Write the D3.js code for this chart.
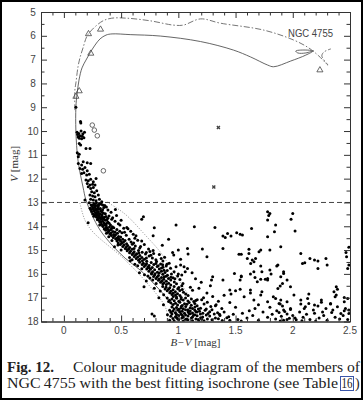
<!DOCTYPE html>
<html><head><meta charset="utf-8">
<script src="https://cdn.jsdelivr.net/npm/d3@7"></script>
<style>body{margin:0;background:#fff}svg{display:block}</style>
</head><body>
<svg id="c" width="363" height="400"></svg>
<script>
// ---- data (B-V, V) ----
const xTickLabels = [0, 0.5, 1, 1.5, 2, 2.5];
const yTickLabels = [5,6,7,8,9,10,11,12,13,14,15,16,17,18];
const cutLine = 13;
const clusterLabel = "NGC 4755";

const upperMS = [[0.105,9.0],[0.145,9.6],[0.148,9.66],
[0.115,10.05],[0.13,10.1],[0.15,10.0],[0.165,10.12],[0.14,10.2],[0.16,10.22],[0.125,10.25],[0.175,10.28],[0.12,10.15],[0.155,10.32],[0.135,10.3],[0.18,10.05],
[0.134,10.52],[0.146,10.59],[0.193,10.73],[0.228,10.73],[0.117,10.91],[0.134,10.97],[0.126,11.08],
[0.126,11.36],[0.155,11.43],[0.169,11.29],[0.204,11.33],[0.234,11.36],
[0.14,11.57],[0.164,11.61],[0.184,11.53],[0.204,11.67],[0.155,11.78],[0.175,11.75],[0.199,11.85],[0.222,11.81],[0.281,11.99],[0.193,12.06],[0.213,12.09],[0.234,12.03],[0.257,12.13],[0.204,12.2],[0.228,12.27],[0.251,12.23],[0.272,12.27],
[0.213,12.34],[0.234,12.41],[0.257,12.37],[0.243,12.55],[0.266,12.59],[0.287,12.51],[0.228,12.69],[0.251,12.73],[0.272,12.76],[0.301,12.69],[0.234,12.87],[0.257,12.9],[0.281,12.93],[0.310,12.87],[0.331,12.97],[0.184,12.9]];

const lowerMS = [
[0.221,13.01],[0.262,13.04],[0.284,13.02],[0.305,13.09],[0.238,13.11],[0.291,13.13],[0.327,13.07],[0.247,13.17],[0.268,13.2],[0.302,13.15],[0.349,13.21],[0.255,13.24],[0.279,13.27],[0.318,13.25],[0.371,13.19],[0.236,13.3],[0.283,13.33],[0.296,13.29],[0.338,13.31],[0.262,13.36],[0.301,13.39],[0.322,13.36],[0.385,13.32],[0.275,13.43],[0.306,13.46],[0.345,13.44],[0.252,13.47],[0.289,13.49],[0.318,13.5],[0.362,13.47],[0.412,13.41],[0.229,13.24],[0.357,13.13],[0.266,13.08],[0.309,13.27],[0.331,13.4],[0.274,13.14],[0.243,13.38],[0.296,13.22],[0.313,13.05],[0.258,13.28],[0.286,13.42],[0.339,13.11],[0.252,13.12],
[0.271,13.53],[0.307,13.56],[0.334,13.52],[0.368,13.59],[0.284,13.61],[0.318,13.64],[0.352,13.62],[0.394,13.57],[0.296,13.68],[0.327,13.7],[0.341,13.66],[0.375,13.73],[0.309,13.76],[0.338,13.79],[0.363,13.75],[0.418,13.71],[0.316,13.83],[0.349,13.86],[0.384,13.82],[0.447,13.79],[0.328,13.91],[0.356,13.94],[0.372,13.88],[0.407,13.95],[0.339,13.98],[0.369,13.97],[0.476,13.89],[0.212,13.85],[0.293,13.73],[0.426,13.64],[0.262,13.58],[0.287,13.55],[0.322,13.81],[0.351,13.71],[0.395,13.87],[0.302,13.63],[0.33,13.6],[0.361,13.91],[0.384,13.66],[0.313,13.95],
[0.342,14.01],[0.375,14.05],[0.398,14.03],[0.436,14.06],[0.352,14.11],[0.384,14.13],[0.417,14.09],[0.366,14.17],[0.393,14.19],[0.428,14.22],[0.463,14.14],[0.386,14.25],[0.412,14.28],[0.447,14.24],[0.402,14.32],[0.435,14.35],[0.468,14.29],[0.507,14.27],[0.415,14.39],[0.442,14.41],[0.478,14.43],[0.431,14.47],[0.465,14.49],[0.496,14.45],[0.545,14.38],[0.584,14.21],[0.523,14.08],[0.392,14.44],[0.606,14.34],[0.365,14.07],[0.409,14.15],[0.451,14.36],[0.372,14.29],[0.488,14.21],[0.424,14.02],
[0.452,14.52],[0.486,14.56],[0.514,14.55],[0.463,14.61],[0.497,14.63],[0.534,14.6],[0.474,14.69],[0.506,14.71],[0.548,14.73],[0.587,14.66],[0.493,14.77],[0.527,14.79],[0.558,14.81],[0.515,14.85],[0.546,14.87],[0.575,14.89],[0.624,14.83],[0.536,14.93],[0.567,14.95],[0.596,14.97],[0.663,14.91],[0.645,14.59],[0.703,14.77],[0.554,14.99],[0.442,14.86],[0.472,14.79],[0.521,14.66],[0.598,14.75],[0.478,14.54],[0.613,14.93],
[0.553,15.03],[0.582,15.05],[0.614,15.07],[0.652,15.02],[0.574,15.11],[0.605,15.13],[0.636,15.15],[0.684,15.09],[0.597,15.19],[0.626,15.21],[0.664,15.23],[0.713,15.17],[0.614,15.27],[0.645,15.29],[0.682,15.31],[0.745,15.25],[0.632,15.35],[0.664,15.37],[0.703,15.39],[0.773,15.33],[0.652,15.43],[0.686,15.45],[0.724,15.47],[0.804,15.41],[0.752,15.06],[0.834,15.19],[0.574,15.31],[0.865,15.46],[0.596,15.41],[0.721,15.33],[0.655,15.12],[0.784,15.14],
[0.663,15.51],[0.694,15.55],[0.722,15.57],[0.763,15.52],[0.804,15.56],[0.845,15.59],[0.684,15.61],[0.713,15.63],[0.745,15.65],[0.786,15.61],[0.824,15.66],[0.863,15.62],[0.702,15.69],[0.734,15.71],[0.772,15.73],[0.815,15.69],[0.853,15.75],[0.894,15.67],[0.724,15.79],[0.756,15.81],[0.793,15.83],[0.834,15.79],[0.875,15.85],[0.743,15.89],[0.775,15.91],[0.817,15.93],[0.852,15.89],[0.903,15.86],[0.765,15.97],[0.796,15.99],[0.833,15.96],[0.884,15.94],[0.932,15.76],[0.963,15.91],[0.645,15.66],[0.681,15.78],[0.745,15.74],[0.866,15.72],
[0.704,16.04],[0.735,16.09],[0.766,16.01],[0.793,16.05],[0.826,16.07],[0.864,16.02],[0.905,16.06],[0.784,16.11],[0.815,16.13],[0.853,16.15],[0.893,16.1],[0.935,16.14],[0.805,16.19],[0.834,16.21],[0.873,16.23],[0.914,16.19],[0.953,16.16],[0.826,16.27],[0.856,16.29],[0.895,16.31],[0.934,16.26],[0.845,16.35],[0.874,16.37],[0.915,16.39],[0.965,16.34],[0.865,16.43],[0.895,16.45],[0.934,16.47],[0.984,16.41],[1.014,16.24],[0.994,16.09],[0.752,16.17],[0.776,16.26],[0.806,16.4],[0.877,16.12],
[0.864,16.53],[0.893,16.56],[0.925,16.58],[0.963,16.53],[1.004,16.57],[0.884,16.63],[0.914,16.65],[0.954,16.67],[0.995,16.62],[1.034,16.66],[0.903,16.71],[0.935,16.73],[0.974,16.75],[1.013,16.7],[0.925,16.79],[0.954,16.81],[0.993,16.83],[1.045,16.77],[0.944,16.87],[0.975,16.89],[1.014,16.91],[1.064,16.84],[0.956,16.95],[0.984,16.97],[1.025,16.99],[1.085,16.91],[1.124,16.69],[1.105,16.56],[0.842,16.72],[0.872,16.88],
[0.903,17.01],[0.944,17.05],[0.985,17.02],[1.024,17.07],[1.063,17.01],[1.114,17.06],[1.165,17.09],[0.923,17.11],[0.964,17.13],[1.004,17.15],[1.043,17.1],[1.084,17.14],[1.135,17.16],[1.204,17.09],[0.934,17.21],[0.975,17.23],[1.013,17.19],[1.054,17.25],[1.095,17.2],[1.144,17.24],[1.253,17.19],[0.955,17.29],[0.993,17.31],[1.034,17.33],[1.075,17.28],[1.113,17.32],[1.164,17.34],[1.225,17.27],[0.944,17.39],[0.984,17.41],[1.023,17.43],[1.065,17.37],[1.104,17.42],[1.145,17.39],[1.194,17.44],[1.284,17.37],[0.963,17.47],[1.004,17.49],[1.043,17.46],[1.085,17.51],[1.124,17.45],[1.175,17.48],[1.244,17.47],[1.324,17.34],[0.915,17.16],[1.027,17.36],[1.152,17.12],
[0.924,17.53],[0.953,17.56],[0.994,17.52],[1.034,17.57],[1.063,17.51],[1.104,17.56],[1.143,17.52],[1.185,17.57],[1.234,17.53],[1.294,17.51],[0.935,17.61],[0.974,17.63],[1.013,17.6],[1.054,17.65],[1.085,17.59],[1.124,17.64],[1.163,17.6],[1.214,17.65],[1.274,17.59],[1.343,17.63],[0.944,17.69],[0.983,17.71],[1.024,17.68],[1.063,17.73],[1.104,17.67],[1.145,17.72],[1.193,17.68],[1.244,17.73],[1.314,17.69],[0.934,17.78],[0.975,17.8],[1.003,17.75],[1.044,17.81],[1.085,17.77],[1.124,17.81],[1.164,17.76],[1.213,17.81],[1.274,17.77],[1.364,17.75],[0.953,17.87],[0.994,17.89],[1.034,17.84],[1.073,17.9],[1.114,17.85],[1.154,17.89],[1.195,17.84],[1.254,17.89],[1.324,17.85],[0.924,17.95],[0.963,17.97],[1.004,17.92],[1.044,17.98],[1.083,17.93],[1.124,17.97],[1.174,17.92],[1.224,17.97],[1.294,17.93],[1.384,17.96],[1.424,17.84],[1.013,17.58],[1.093,17.66],[1.133,17.74],[0.984,17.83],[1.064,17.91],[1.153,17.58],[1.034,17.74],[1.203,17.9],[0.905,17.72],[1.26,17.66],[1.35,17.88],[1.18,17.99],
[0.55,14.05],[0.62,14.5],[0.68,14.62],[0.74,14.95],[0.78,15.02],[0.88,15.3],[0.92,15.55],[0.98,15.7],[1.0,16.0],[1.04,16.4],[0.5,13.75],[0.46,13.55],
[0.45,13.3],[0.49,13.95],[0.53,14.25],[0.57,14.55],[0.63,14.4],[0.67,14.85],[0.72,15.1],[0.76,15.22],[0.81,15.48],[0.85,15.35],[0.9,15.6],[0.94,16.0],[0.97,16.2],[1.03,16.5],[0.42,14.6],[0.5,15.0],[0.58,15.45],[0.62,15.6],[0.66,15.95],[0.72,16.3],[0.79,16.6],[0.83,17.0],[0.87,17.3],[0.56,14.1],[0.61,14.7],
[0.70,16.54],[0.77,17.69],[0.79,17.77]];

const fieldStars = [[0.695,13.6],[0.68,13.71],[0.79,14.06],[0.98,13.95],[1.14,14.02],[1.32,14.05],[0.915,14.55],[0.86,14.8],[0.78,14.4],[0.95,15.1],
[1.39,14.41],[1.41,14.47],[1.43,14.30],[1.46,14.41],[1.51,14.27],[1.54,14.33],[1.56,14.37],[1.64,14.09],
[1.78,13.39],[1.80,13.46],[1.79,13.55],[1.78,13.74],[1.85,13.95],[1.84,14.23],[1.78,14.44],[1.80,15.0],
[2.0,13.46],[1.985,13.71],[2.02,14.2],
[0.96,15.21],[1.02,15.39],[1.08,14.93],[1.0,15.0],[1.085,15.17],[1.21,14.96],[1.25,15.28],[1.39,14.93],[1.53,15.18],[1.55,15.18],
[1.617,14.97],[1.617,15.14],[1.603,15.35],[1.646,15.42],[1.632,15.56],[1.661,15.49],[1.675,15.35],[1.705,15.07],[1.72,15.0],
[1.895,14.86],[2.07,15.14],[2.105,15.53],[2.15,15.35],[2.22,15.46],[2.29,15.35],[2.465,15.1],[2.47,15.28],[2.49,14.88],
[1.02,15.63],[1.05,15.7],[1.08,15.77],[1.06,15.91],[1.03,16.05],
[1.30,16.12],[1.29,16.26],[1.39,16.26],[1.55,16.09],[1.54,16.26],
[1.63,16.01],[1.67,16.15],[1.72,16.23],[1.76,16.23],[1.78,16.26],[1.73,15.91],[1.72,15.67],
[1.80,15.84],[1.81,16.01],[1.86,15.67],[1.895,16.12],[1.92,15.91],[1.95,16.26],[1.91,16.4],[1.89,16.51],[1.87,16.61],
[1.49,15.98],[1.55,16.12],[1.66,15.91],[1.69,16.33],[1.78,16.19],
[2.085,15.56],[2.19,15.42],[2.22,15.77],[2.30,15.63],[2.49,15.63],[2.48,15.77],[1.87,15.63],[1.92,15.98],[1.98,16.54],
[1.45,16.68],[1.50,16.71],[1.54,16.65],[1.63,16.68],[1.73,16.75],
[2.38,16.54],[2.36,16.75],[2.37,16.96],[2.39,16.65],[2.38,16.89],[2.14,16.85],[2.45,16.99],[2.48,17.03],
[1.85,17.03],[1.895,17.1],[1.88,17.24],[1.91,17.35],[1.95,17.17],[1.92,17.52],[1.98,17.45],
[2.07,17.1],[2.11,17.38],[2.14,17.24],[2.18,17.52],[2.22,17.35],[2.25,17.1],[2.29,17.45],[2.33,17.24],[2.35,17.52],[2.39,17.38],[2.42,17.66],[2.46,17.45],[2.49,17.66],
[1.46,16.84],[1.575,16.96],[1.63,16.8],[1.66,17.1],[1.72,16.89],[1.78,17.17],[1.83,16.96],[1.89,17.26],[2.01,16.89],[2.07,17.26],[2.13,17.03],[2.19,17.31],[2.25,17.19],[2.33,17.26],[2.45,17.17],[2.49,17.52],
[1.18,16.6],[1.25,16.8],[1.3,16.95],[1.22,17.0],[1.35,17.15],[1.4,16.9],[1.28,16.5],[1.2,16.35],[1.15,16.2],[1.12,15.95],[1.33,17.3],[1.45,17.2],[1.5,17.4],[1.38,17.45],
[1.40,17.6],[1.44,17.8],[1.48,17.7],[1.52,17.92],[1.56,17.65],[1.60,17.85],[1.65,17.75],[1.70,17.95],[1.74,17.6],[1.78,17.82],[1.82,17.7],[1.85,17.9],[1.88,17.62],[1.90,17.78],[1.92,17.95],[1.95,17.68],[1.97,17.86],[2.0,17.75],[2.03,17.93],[2.06,17.6],[2.09,17.82],[2.12,17.7],[2.15,17.92],[2.19,17.65],[2.23,17.85],[2.27,17.75],[2.30,17.95],[2.34,17.62],[2.37,17.82],[2.41,17.9],[2.44,17.75],[2.48,17.92],[1.86,17.55],[1.93,17.58],[1.98,17.5],[2.02,17.85],[1.89,17.98],[1.95,17.92],[2.08,17.97],[2.2,17.98],[1.62,17.55],[1.55,17.98],[1.45,17.95],[1.36,17.7],[1.67,17.45],[2.1,17.45],[2.26,17.6],[2.45,17.55],[1.8,17.4],[1.7,17.3]];

const isoSolid = [[1.035,17.98],[1.0,17.73],[0.912,17.10],[0.798,16.47],[0.667,15.84],[0.535,15.34],[0.421,14.79],[0.316,14.16],[0.246,13.53],[0.193,12.90],[0.167,12.35],[0.123,11.22],[0.105,10.0],[0.105,8.99],[0.114,8.49],[0.132,7.86],[0.158,7.35],[0.193,7.02],[0.228,6.72],[0.272,6.39],[0.316,6.13],[0.368,5.97],[0.421,5.92],[0.579,5.95],[0.842,6.01],[1.193,6.24],[1.482,6.60],[1.632,6.89],[1.781,7.23],[1.833,7.30],[1.982,7.06],[2.114,6.81],[2.175,6.64],[2.070,6.60],[2.026,6.64],[2.044,6.72],[2.114,6.72],[2.184,6.62]];
const isoDashDot = [[0.096,9.12],[0.096,8.28],[0.105,7.98],[0.123,7.31],[0.140,6.93],[0.167,6.51],[0.199,6.04],[0.228,5.84],[0.272,5.62],[0.342,5.37],[0.418,5.26],[0.55,5.26],[0.754,5.37],[0.956,5.55],[1.044,5.55],[1.193,5.29],[1.368,5.47],[1.746,5.76],[2.009,6.18],[2.140,6.51],[2.228,6.85],[2.307,7.23],[2.254,6.85],[2.272,6.68],[2.333,6.55]];
const bandLeft = [[0.14,13.03],[0.184,13.74],[0.254,14.24],[0.518,15.34],[0.728,16.39],[0.886,17.39],[0.912,17.98]];
const bandRight = [[0.377,12.98],[0.535,13.49],[0.711,14.37],[0.842,15.08],[0.947,15.84],[1.061,16.68],[1.149,17.31]];
const triangles = [[0.215,5.92],[0.32,5.73],[0.235,6.74],[0.134,8.32],[0.105,8.55],[2.237,7.44]];
const circlesOpen = [[0.248,9.75],[0.266,9.96],[0.292,10.20],[0.345,11.67]];
const crosses = [[1.35,9.85],[1.31,12.35]];

// ---- drawing ----
const svg = d3.select("#c");
const L=41, R=350, T=12, B=321.5;
const x = d3.scaleLinear().domain([-0.2, 2.5]).range([L, R]);
const y = d3.scaleLinear().domain([5, 18]).range([T, B]);
const ink = "#333";

svg.append("rect").attr("x",1).attr("y",1).attr("width",361).attr("height",398)
  .attr("fill","none").attr("stroke","#000").attr("stroke-width",2);

const g = svg.append("g");
g.append("defs").append("clipPath").attr("id","clip").append("rect")
  .attr("x",L).attr("y",T).attr("width",R-L).attr("height",B-T);
const plot = g.append("g").attr("clip-path","url(#clip)");

const line = d3.line().x(d=>x(d[0])).y(d=>y(d[1])).curve(d3.curveCatmullRom.alpha(0.5));

plot.append("path").datum(isoSolid).attr("d",line).attr("fill","none").attr("stroke","#555").attr("stroke-width",0.9);
plot.append("path").datum(isoDashDot).attr("d",line).attr("fill","none").attr("stroke","#666").attr("stroke-width",0.9).attr("stroke-dasharray","6,2,1.5,2");
[bandLeft, bandRight].forEach(b=>plot.append("path").datum(b).attr("d",line).attr("fill","none").attr("stroke","#777").attr("stroke-width",0.8).attr("stroke-dasharray","1,1.6"));
plot.append("line").attr("x1",L).attr("x2",R).attr("y1",y(cutLine)).attr("y2",y(cutLine))
  .attr("stroke","#444").attr("stroke-width",1).attr("stroke-dasharray","5,3");

plot.append("g").selectAll("circle").data(upperMS.concat(lowerMS, fieldStars)).join("circle")
  .attr("cx",d=>x(d[0])).attr("cy",d=>y(d[1])).attr("r",1.5).attr("fill","#000");

plot.append("g").selectAll("path").data(triangles).join("path")
  .attr("d", d3.symbol(d3.symbolTriangle, 16))
  .attr("transform", d=>`translate(${x(d[0])},${y(d[1])})`)
  .attr("fill","none").attr("stroke","#444").attr("stroke-width",0.8);
plot.append("g").selectAll("circle").data(circlesOpen).join("circle")
  .attr("cx",d=>x(d[0])).attr("cy",d=>y(d[1])).attr("r",2.3)
  .attr("fill","none").attr("stroke","#444").attr("stroke-width",0.8);
plot.append("g").selectAll("path").data(crosses).join("path")
  .attr("d", d3.symbol(d3.symbolCross, 10))
  .attr("transform", d=>`translate(${x(d[0])},${y(d[1])}) rotate(45)`)
  .attr("fill","#444");

// axes
const xMinor = d3.range(-2, 26).map(i=>i/10).filter(v=>!xTickLabels.includes(v));
const yMinor = d3.range(10, 36).map(i=>i/2).filter(v=>!yTickLabels.includes(v));
function styleAxis(sel){ sel.select(".domain").attr("stroke",ink); sel.selectAll(".tick line").attr("stroke",ink); sel.selectAll("text").remove(); }
g.append("g").attr("transform",`translate(0,${B})`).call(d3.axisBottom(x).tickValues(xTickLabels).tickSize(-6).tickSizeOuter(0)).call(styleAxis);
g.append("g").attr("transform",`translate(0,${B})`).call(d3.axisBottom(x).tickValues(xMinor).tickSize(-3.5).tickSizeOuter(0)).call(styleAxis);
g.append("g").attr("transform",`translate(0,${T})`).call(d3.axisTop(x).tickValues(xTickLabels).tickSize(-6).tickSizeOuter(0)).call(styleAxis);
g.append("g").attr("transform",`translate(0,${T})`).call(d3.axisTop(x).tickValues(xMinor).tickSize(-3.5).tickSizeOuter(0)).call(styleAxis);
g.append("g").attr("transform",`translate(${L},0)`).call(d3.axisLeft(y).tickValues(yTickLabels).tickSize(-6).tickSizeOuter(0)).call(styleAxis);
g.append("g").attr("transform",`translate(${L},0)`).call(d3.axisLeft(y).tickValues(yMinor).tickSize(-3.5).tickSizeOuter(0)).call(styleAxis);
g.append("g").attr("transform",`translate(${R},0)`).call(d3.axisRight(y).tickValues(yTickLabels).tickSize(-6).tickSizeOuter(0)).call(styleAxis);
g.append("g").attr("transform",`translate(${R},0)`).call(d3.axisRight(y).tickValues(yMinor).tickSize(-3.5).tickSizeOuter(0)).call(styleAxis);

const sans = "Liberation Sans, Arial, sans-serif";
g.append("g").selectAll("text").data(xTickLabels).join("text")
  .attr("x",d=>x(d)).attr("y",334).attr("text-anchor","middle")
  .attr("font-family",sans).attr("font-size",10).attr("fill","#444").text(d=>String(d));
g.append("g").selectAll("text").data(yTickLabels).join("text")
  .attr("x",33).attr("y",d=>y(d)+3.6).attr("text-anchor","middle")
  .attr("font-family",sans).attr("font-size",10).attr("fill","#444").text(d=>String(d));

const serif = "Liberation Serif, Times New Roman, serif";
const xt = g.append("text").attr("x",(L+R)/2).attr("y",346).attr("text-anchor","middle")
  .attr("font-family",serif).attr("font-size",11).attr("fill","#333");
xt.append("tspan").attr("font-style","italic").text("B\u2212V");
xt.append("tspan").text(" [mag]");
const yt = g.append("text").attr("transform",`translate(18,${(T+B)/2-3}) rotate(-90)`).attr("text-anchor","middle")
  .attr("font-family",serif).attr("font-size",11).attr("fill","#333");
yt.append("tspan").attr("font-style","italic").text("V");
yt.append("tspan").text(" [mag]");

g.append("text").attr("x",288).attr("y",37).attr("font-family",sans).attr("font-size",10)
  .attr("fill","#444").attr("textLength",45).attr("lengthAdjust","spacingAndGlyphs").text(clusterLabel);

// caption
const cap = svg.append("g").attr("font-family",serif).attr("font-size",15).attr("fill","#222");
cap.append("text").attr("x",7).attr("y",372).attr("font-weight","bold").text("Fig. 12.");
cap.append("text").attr("x",73).attr("y",372).attr("textLength",287).attr("lengthAdjust","spacingAndGlyphs")
  .text("Colour magnitude diagram of the members of");
cap.append("text").attr("x",7).attr("y",388).attr("textLength",331).attr("lengthAdjust","spacingAndGlyphs")
  .text("NGC\u20094755 with the best fitting isochrone (see Table");
cap.append("text").attr("x",341.5).attr("y",388).attr("textLength",11).attr("lengthAdjust","spacingAndGlyphs").text("16");
cap.append("text").attr("x",355).attr("y",388).attr("font-size",14).text(")");
cap.append("rect").attr("x",340.5).attr("y",376.5).attr("width",13).attr("height",14)
  .attr("fill","none").attr("stroke","#3a55a8").attr("stroke-width",1);
</script>
</body></html>
